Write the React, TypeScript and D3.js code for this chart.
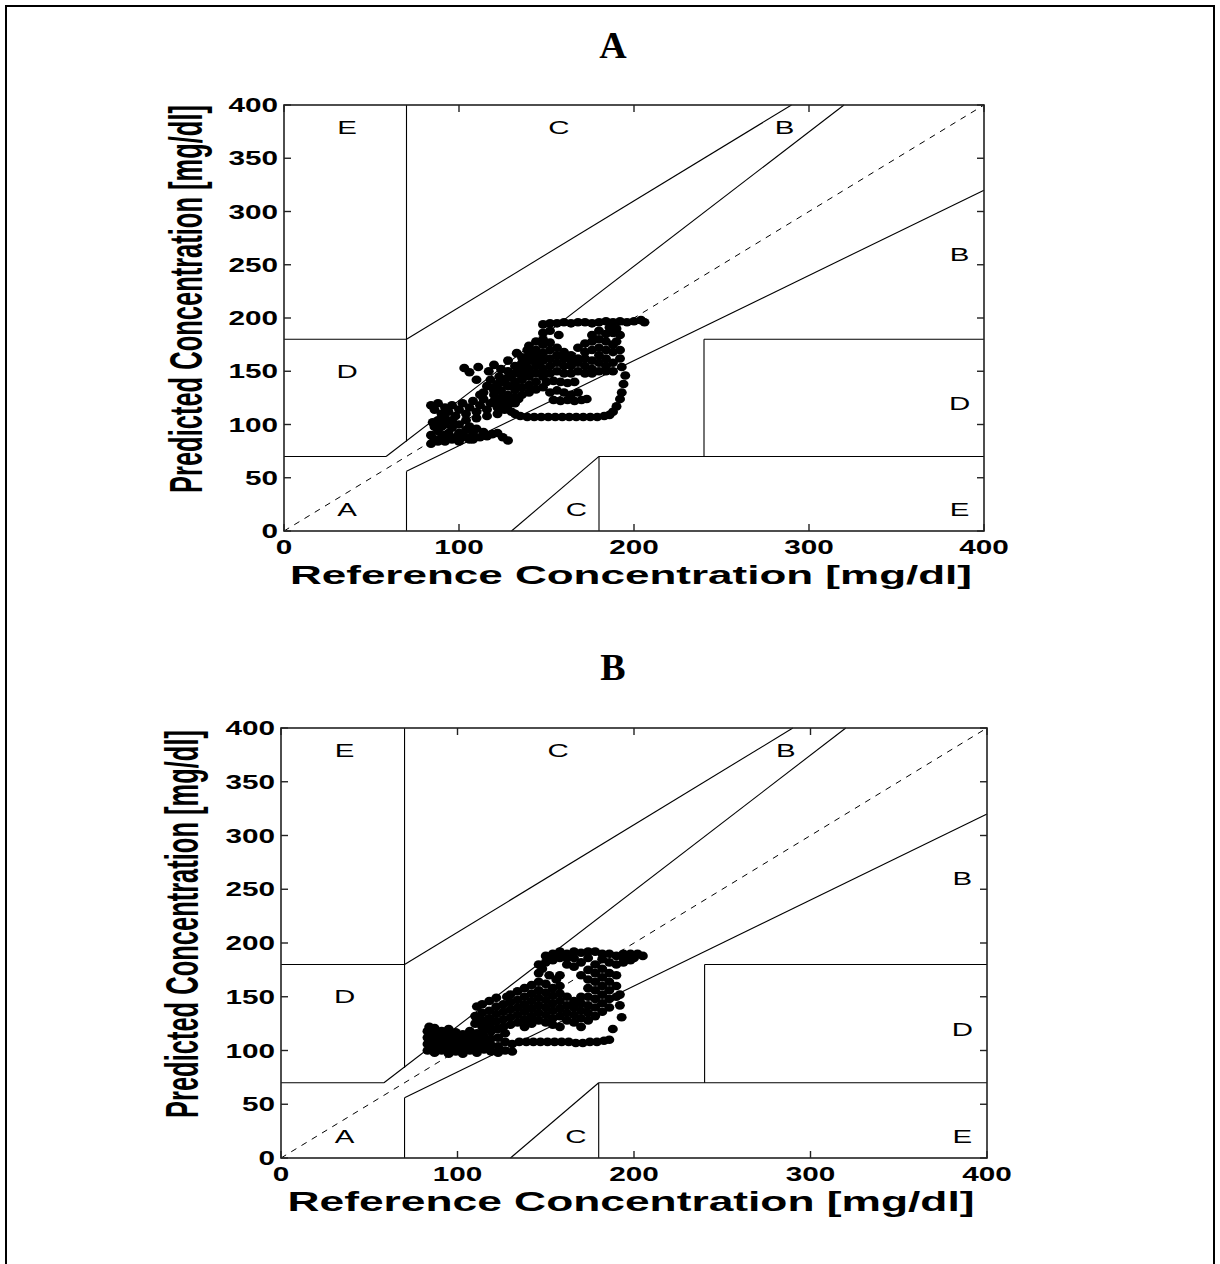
import React from "react";
import * as d3 from "d3";

// axis ticks
const xTicks = [0, 100, 200, 300, 400];
const yTicks = [0, 50, 100, 150, 200, 250, 300, 350, 400];

// Clarke error grid zone borders [x1, y1, x2, y2]
const zoneLines = [
  [0, 70, 175 / 3, 70],
  [175 / 3, 70, 320, 400],
  [70, 84, 70, 400],
  [0, 180, 70, 180],
  [70, 180, 290, 400],
  [70, 0, 70, 56],
  [70, 56, 400, 320],
  [180, 0, 180, 70],
  [180, 70, 400, 70],
  [240, 70, 240, 180],
  [240, 180, 400, 180],
  [130, 0, 180, 70],
];

// zone letters [label, x, y]
const zoneLabels: [string, number, number][] = [
  ["E", 36, 379], ["C", 157, 379], ["B", 286, 379],
  ["B", 386, 260], ["D", 36, 150], ["D", 386, 120],
  ["A", 36, 20], ["C", 167, 20], ["E", 386, 20],
];

// panel A points [reference, predicted]
const pointsA: [number, number][] = [
  [148,194],[152,195],[156,195],[160,196],[164,195],[168,196],[172,196],[176,195],[180,196],[184,197],[188,196],[192,197],[196,196],[200,197],[204,198],[206,196],
  [148,186],[157,184],[184,185],[188,186],[190,178],[152,188],[186,191],[190,190],[192,184],
  [192,170],[192,162],[193,154],[195,146],[194,138],[193,130],[192,124],[190,117],[188,112],
  [135,108],[139,107],[143,107],[147,107],[151,107],[155,107],[159,107],[163,107],[167,107],[171,107],[175,107],[179,107],[183,108],[186,109],
  [130,112],[126,114],[132,110],
  [103,153],[111,154],[110,142],[117,150],[123,145],[133,167],[139,170],[128,160],[120,156],[106,149],
  [150,140],[154,141],[158,140],[162,139],[166,140],[154,123],[158,122],[162,123],[166,122],[170,123],[173,124],
  [120,128],[120,135],[124,125],[124,132],[124,140],[124,152],[128,128],[128,136],[128,144],[128,150],
  [132,126],[132,133],[132,140],[132,148],[132,155],[136,128],[136,135],[136,142],[136,150],[136,158],[136,163],
  [140,130],[140,137],[140,145],[140,152],[140,160],[140,166],[140,174],
  [144,133],[144,140],[144,148],[144,155],[144,163],[144,170],[144,178],
  [148,135],[148,145],[148,152],[148,160],[148,167],[148,175],[148,180],
  [152,130],[152,148],[152,155],[152,162],[152,170],[152,177],
  [156,132],[156,150],[156,158],[156,165],[156,172],
  [160,130],[160,148],[160,155],[160,162],[160,168],
  [164,128],[164,148],[164,155],[164,160],[164,165],
  [168,130],[168,150],[168,158],[168,162],[168,172],
  [172,148],[172,155],[172,162],[172,168],[172,176],
  [176,148],[176,152],[176,160],[176,170],[176,178],[176,184],
  [180,150],[180,158],[180,165],[180,172],[180,180],[180,188],
  [184,150],[184,155],[184,162],[184,170],[184,178],
  [188,150],[188,158],[188,168],[188,175],
  [84,82],[86,86],[84,90],[88,94],[86,98],[85,102],[90,88],[92,84],[94,92],[96,97],[98,88],[100,84],[102,90],[104,95],[106,86],[108,92],[110,96],[112,88],[114,93],[116,89],[119,91],[122,92],[125,88],[128,85],[90,98],[100,100],[96,104],[88,104],
  [88,84],[92,90],[96,86],[100,92],[104,88],[108,86],[106,98],[92,100],
  [84,118],[86,114],[88,120],[90,110],[92,116],[94,112],[96,118],[98,108],[100,114],[102,120],[104,110],[106,116],[108,122],[110,112],[112,118],[114,124],[116,114],[118,120],[120,122],[122,116],[124,120],[126,124],[128,118],[130,122],[132,120],[134,124],[92,106],[104,104],[110,106],[116,108],[122,110],
  [114,130],[116,136],[118,142],[112,128],[120,132],[122,138],[126,140],[130,146],[134,152],[138,156],[142,160],[144,164],[136,144],[132,138],[140,150],[146,158],
];

// panel B points [reference, predicted]
const pointsB: [number, number][] = [
  [83,100],[83,106],[83,112],[83,118],[84,122],[87,98],[87,104],[87,110],[87,116],[87,121],
  [91,100],[91,106],[91,112],[91,118],[95,97],[95,103],[95,109],[95,115],[95,120],
  [99,99],[99,105],[99,111],[99,117],[103,97],[103,103],[103,109],[103,115],
  [107,100],[107,106],[107,112],[107,118],[111,98],[111,104],[111,110],[111,116],
  [115,101],[115,107],[115,113],[115,119],[119,99],[119,105],[119,111],[119,118],
  [123,98],[123,104],[123,112],[123,120],[127,100],[127,108],[127,116],[131,99],[131,106],
  [110,125],[110,132],[111,141],[114,122],[114,128],[114,135],[114,143],
  [118,124],[118,130],[118,137],[118,146],[122,120],[122,127],[122,134],[122,141],[122,149],
  [126,122],[126,129],[126,136],[126,143],[128,150],[130,124],[130,131],[130,138],[130,145],[130,152],
  [134,126],[134,133],[134,140],[134,147],[134,155],[138,122],[138,129],[138,136],[138,143],[138,150],[138,158],
  [142,125],[142,132],[142,139],[142,146],[142,153],[142,161],
  [146,128],[146,135],[146,142],[146,149],[146,156],[146,164],[146,172],
  [150,126],[150,133],[150,140],[150,147],[150,154],[150,162],[150,182],[150,188],
  [154,124],[154,130],[154,137],[154,144],[154,151],[154,158],[154,184],[154,190],
  [158,122],[158,132],[158,139],[158,146],[158,153],[158,160],[158,170],[158,186],
  [162,128],[162,135],[162,142],[162,150],[162,180],[162,190],
  [166,126],[166,133],[166,140],[166,146],[166,178],[166,186],
  [170,122],[170,130],[170,137],[170,144],[170,150],[170,170],[170,182],[170,191],
  [174,128],[174,135],[174,142],[174,150],[174,158],[174,166],[174,175],[174,186],
  [178,132],[178,140],[178,148],[178,156],[178,164],[178,172],[178,180],[178,192],
  [182,136],[182,144],[182,152],[182,160],[182,168],[182,176],[182,185],
  [186,140],[186,148],[186,156],[186,164],[186,172],[186,182],[186,190],
  [190,150],[190,160],[190,170],[190,180],[190,188],
  [158,192],[162,186],[166,192],[174,192],[182,190],[194,182],[198,184],[200,186],[194,190],
  [148,176],[152,170],[156,166],[146,180],
  [194,186],[198,190],[202,190],[205,188],[192,152],[192,142],[193,131],[188,120],
  [135,108],[139,108],[143,108],[147,108],[151,108],[155,108],[159,108],[163,108],[167,107],[171,107],[175,108],[179,108],[183,109],[186,110],
];

type PanelProps = {
  title: string;
  titleY: number;
  x0: number; x1: number; yTop: number; yBot: number;
  points: [number, number][];
  yLabelX: number;
  xLabelY: number;
  xLabelLen: number;
  xLabelSize: number;
};

const SANS = "'Liberation Sans', Arial, Helvetica, sans-serif";

function Panel(p: PanelProps) {
  const x = d3.scaleLinear().domain([0, 400]).range([p.x0, p.x1]);
  const y = d3.scaleLinear().domain([0, 400]).range([p.yBot, p.yTop]);
  const tk = 7;
  const line = d3.line<[number, number]>().x(d => x(d[0])).y(d => y(d[1]));

  return (
    <g>
      <text x={613} y={p.titleY} textAnchor="middle" fontFamily="'Liberation Serif', 'Times New Roman', serif"
        fontWeight="bold" fontSize={38}>{p.title}</text>

      {/* zone borders */}
      {zoneLines.map((l, i) => (
        <line key={i} x1={x(l[0])} y1={y(l[1])} x2={x(l[2])} y2={y(l[3])} stroke="#000" strokeWidth={1.1} />
      ))}
      <path d={line([[0, 0], [400, 400]]) || ""} stroke="#000" strokeWidth={1} strokeDasharray="6,6" fill="none" />

      {zoneLabels.map((z, i) => (
        <text key={i} transform={`translate(${x(z[1])},${y(z[2])}) scale(1.55,1)`} textAnchor="middle"
          dominantBaseline="central" fontFamily={SANS} fontSize={19}>{z[0]}</text>
      ))}

      {/* data */}
      {p.points.map((d, i) => (
        <ellipse key={i} cx={x(d[0])} cy={y(d[1])} rx={5} ry={4.3} fill="#000" />
      ))}

      {/* box */}
      <rect x={p.x0} y={p.yTop} width={p.x1 - p.x0} height={p.yBot - p.yTop} fill="none" stroke="#222" strokeWidth={1.6} />

      {/* ticks */}
      {yTicks.map(t => (
        <g key={"y" + t}>
          <line x1={p.x0} x2={p.x0 + tk} y1={y(t)} y2={y(t)} stroke="#222" strokeWidth={1.4} />
          <line x1={p.x1} x2={p.x1 - tk} y1={y(t)} y2={y(t)} stroke="#222" strokeWidth={1.4} />
          <text transform={`translate(${p.x0 - 6},${y(t)}) scale(1.45,1)`} textAnchor="end" dominantBaseline="central"
            fontFamily={SANS} fontWeight="bold" fontSize={20.5}>{t}</text>
        </g>
      ))}
      {xTicks.map(t => (
        <g key={"x" + t}>
          <line x1={x(t)} x2={x(t)} y1={p.yBot} y2={p.yBot - tk} stroke="#222" strokeWidth={1.4} />
          <line x1={x(t)} x2={x(t)} y1={p.yTop} y2={p.yTop + tk} stroke="#222" strokeWidth={1.4} />
          <text transform={`translate(${x(t)},${p.yBot + 16}) scale(1.45,1)`} textAnchor="middle" dominantBaseline="central"
            fontFamily={SANS} fontWeight="bold" fontSize={20.5}>{t}</text>
        </g>
      ))}

      {/* axis labels */}
      <text transform={`translate(${p.yLabelX},${(p.yTop + p.yBot) / 2 - 19}) scale(1.85,1) rotate(-90)`}
        textAnchor="middle" dominantBaseline="central" fontFamily={SANS} fontWeight="bold" fontSize={25}
        textLength={388} lengthAdjust="spacingAndGlyphs">Predicted Concentration [mg/dl]</text>
      <text x={(p.x0 + p.x1) / 2 - 3} y={p.xLabelY} textAnchor="middle" fontFamily={SANS} fontWeight="bold"
        fontSize={p.xLabelSize} textLength={p.xLabelLen} lengthAdjust="spacingAndGlyphs">Reference Concentration [mg/dl]</text>
    </g>
  );
}

export default function App() {
  return (
    <svg width={1220} height={1264} style={{ position: "absolute", left: 0, top: 0, background: "#fff" }}>
      <rect x={0} y={0} width={1220} height={1264} fill="#fff" />
      <rect x={6} y={6} width={1208} height={1300} fill="none" stroke="#000" strokeWidth={2} />
      <Panel title="A" titleY={58} x0={284} x1={984} yTop={105} yBot={531} points={pointsA}
        yLabelX={186} xLabelY={584} xLabelLen={682} xLabelSize={26} />
      <Panel title="B" titleY={680} x0={281} x1={987} yTop={728} yBot={1158} points={pointsB}
        yLabelX={182} xLabelY={1211} xLabelLen={687} xLabelSize={27} />
    </svg>
  );
}
